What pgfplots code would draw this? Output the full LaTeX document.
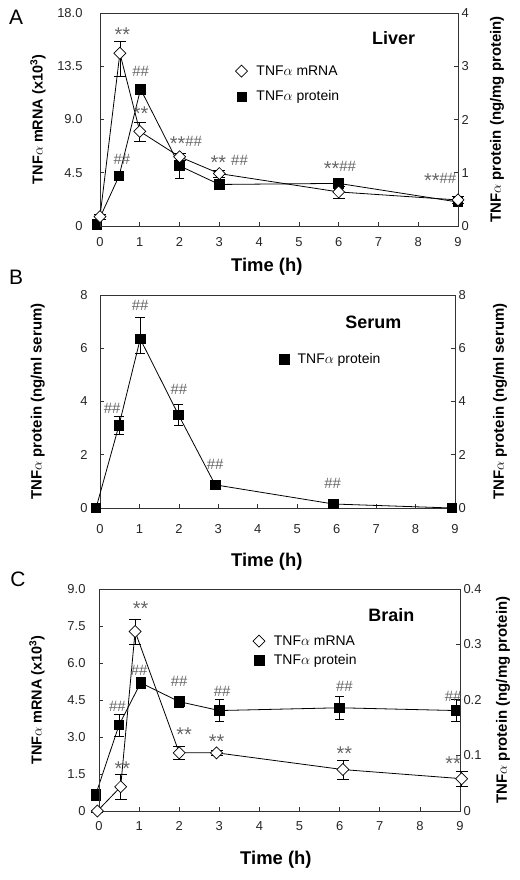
\documentclass[border=0pt]{standalone}
\usepackage{fontspec}
\setmainfont{Liberation Sans}
\usepackage{pgfplots}
\pgfplotsset{compat=1.18}
\definecolor{axc}{gray}{0.2}
\definecolor{annc}{gray}{0.4}
\tikzset{ann/.style={text=annc, font=\fontsize{15}{15}\selectfont, inner sep=0pt}}
\newcommand{\st}{\raisebox{-4bp}{\fontsize{20}{20}\selectfont **}}
\pgfplotsset{
  panel/.style={scale only axis, anchor=north west, xmin=0, xmax=9, xtick={0,1,...,9}, clip=false,
    axis line style={axc, line width=0.8bp},
    tick style={axc, line width=0.7bp}, major tick length=4bp,
    tick label style={font=\fontsize{13}{13}\selectfont, text=black!85},
    /pgf/number format/assume math mode=true,
    ylabel style={font=\bfseries\fontsize{14.5}{14.5}\selectfont},
    xlabel style={font=\bfseries\fontsize{18.5}{18.5}\selectfont},
    legend style={draw=none, fill=none, inner sep=0pt, font=\fontsize{14}{14}\selectfont},
    legend cell align=left,
  },
  mrna/.style={black, line width=0.8bp, mark=diamond*, mark size=6bp,
    mark options={fill=white, draw=black, line width=0.7bp, xscale=1.33, solid},
    error bars/y dir=both, error bars/y explicit, error bars/error bar style={line width=0.7bp, black}},
  prot/.style={black, line width=0.8bp, mark=square*, mark size=4.8bp,
    mark options={fill=black, draw=black, solid},
    error bars/y dir=both, error bars/y explicit, error bars/error bar style={line width=0.7bp, black}},
}
\newcommand{\legmrna}{\addlegendimage{only marks, mark=diamond*, mark size=6bp, mark options={fill=white, draw=black, line width=0.7bp, xscale=1.33}}}
\newcommand{\legprot}{\addlegendimage{only marks, mark=square*, mark size=4.8bp, mark options={fill=black}}}
\newcommand{\lgap}{\hspace*{7bp}}
\begin{document}
\begin{tikzpicture}
\path[use as bounding box] (0,0) rectangle (520bp,-880bp);
% Panel letters
\node[font=\fontsize{21}{21}\selectfont] at (16bp,-17bp) {A};
\node[font=\fontsize{21}{21}\selectfont] at (16bp,-277bp) {B};
\node[font=\fontsize{21}{21}\selectfont] at (18bp,-579bp) {C};

% ---------------- Panel A ----------------
\begin{axis}[panel, at={(100bp,-13bp)}, width=358bp, height=213bp,
  ymin=0, ymax=4, ytick={0,1,2,3,4},
  axis x line=none, axis y line*=right,
  ylabel={TNF$\alpha$ protein (ng/mg protein)},
  ylabel style={at={(axis description cs:1.109,0.5)}, anchor=center, font=\bfseries\fontsize{15}{15}\selectfont}]
\addplot[prot] coordinates {
  (-0.08,0.03) +- (0,0.02)
  (0.48,0.94) +- (0,0.05)
  (1.02,2.57) +- (0,0.1)
  (2,1.13) +- (0,0.24)
  (3,0.78) +- (0,0.05)
  (6,0.8) +- (0,0.1)
  (9,0.45) +- (0,0.05)
};
\end{axis}
\begin{axis}[panel, at={(100bp,-13bp)}, width=358bp, height=213bp,
  ymin=0, ymax=18, ytick={0,4.5,9,13.5,18}, yticklabels={0,4.5,9.0,13.5,18.0},
  ytick pos=left, xtick pos=bottom,
  xticklabel style={yshift=-8bp}, yticklabel style={xshift=-14bp},
  xlabel={Time (h)}, ylabel={TNF$\alpha$ mRNA (x10\textsuperscript{3})},
  xlabel style={at={(axis description cs:0.466,-0.19)}, anchor=center},
  ylabel style={at={(axis description cs:-0.173,0.5)}, anchor=center},
  legend style={at={(rel axis cs:0.378,0.763)}, anchor=north west, row sep=10bp}]
\legmrna \addlegendentry{\lgap TNF$\alpha$ mRNA}
\legprot \addlegendentry{\lgap TNF$\alpha$ protein}
\addplot[mrna, forget plot] coordinates {
  (0,0.8) +- (0,0.2)
  (0.5,14.6) += (0,1.0) -= (0,1.9)
  (1,8.0) +- (0,0.8)
  (2,5.85) +- (0,0.3)
  (3,4.43) +- (0,0.3)
  (6,2.88) +- (0,0.5)
  (9,2.2) +- (0,0.3)
};
\node[ann] at (axis cs:0.56,16.2) {\st};
\node[ann] at (axis cs:1.02,13.1) {\#\#};
\node[ann] at (axis cs:0.55,5.6) {\#\#};
\node[ann] at (axis cs:1.02,9.5) {\st};
\node[ann] at (axis cs:2.16,6.98) {\st\#\#};
\node[ann] at (axis cs:3.25,5.37) {\st\,\,\#\#};
\node[ann] at (axis cs:6.03,4.86) {\st\#\#};
\node[ann] at (axis cs:8.55,3.87) {\st\#\#};
\node[font=\bfseries\fontsize{18}{18}\selectfont] at (rel axis cs:0.82,0.883) {Liver};
\end{axis}

% ---------------- Panel B ----------------
\begin{axis}[panel, at={(100bp,-295bp)}, width=355bp, height=213bp,
  ymin=0, ymax=8, ytick={0,2,4,6,8},
  axis x line=none, axis y line*=right,
  ylabel={TNF$\alpha$ protein (ng/ml serum)},
  ylabel style={at={(axis description cs:1.127,0.5)}, anchor=center, font=\bfseries\fontsize{15}{15}\selectfont}]
\end{axis}
\begin{axis}[panel, at={(100bp,-295bp)}, width=355bp, height=213bp,
  ymin=0, ymax=8, ytick={0,2,4,6,8},
  ytick pos=left, xtick pos=bottom,
  xticklabel style={yshift=-13bp}, yticklabel style={xshift=-9bp},
  xlabel={Time (h)}, ylabel={TNF$\alpha$ protein (ng/ml serum)},
  xlabel style={at={(axis description cs:0.47,-0.25)}, anchor=center},
  ylabel style={at={(axis description cs:-0.175,0.5)}, anchor=center, font=\bfseries\fontsize{15}{15}\selectfont},
  legend style={at={(rel axis cs:0.504,0.737)}, anchor=north west}]
\legprot \addlegendentry{\lgap TNF$\alpha$ protein}
\addplot[prot, forget plot] coordinates {
  (-0.1,0) +- (0,0.02)
  (0.48,3.1) +- (0,0.33)
  (1.02,6.35) += (0,0.8) -= (0,0.55)
  (1.99,3.5) +- (0,0.4)
  (2.92,0.87) +- (0,0.1)
  (5.92,0.15) +- (0,0.1)
  (8.92,0) +- (0,0.02)
};
\node[ann] at (axis cs:1.02,7.6) {\#\#};
\node[ann] at (axis cs:0.31,3.75) {\#\#};
\node[ann] at (axis cs:2.0,4.46) {\#\#};
\node[ann] at (axis cs:2.92,1.62) {\#\#};
\node[ann] at (axis cs:5.9,0.94) {\#\#};
\node[font=\bfseries\fontsize{18}{18}\selectfont] at (rel axis cs:0.77,0.873) {Serum};
\end{axis}

% ---------------- Panel C ----------------
\begin{axis}[panel, at={(99bp,-589bp)}, width=361bp, height=222bp,
  ymin=0, ymax=0.4, ytick={0,0.1,0.2,0.3,0.4}, yticklabels={0,0.1,0.2,0.3,0.4},
  axis x line=none, axis y line*=right,
  ylabel={TNF$\alpha$ protein (ng/mg protein)},
  ylabel style={at={(axis description cs:1.119,0.5)}, anchor=center, font=\bfseries\fontsize{15}{15}\selectfont}]
\addplot[prot] coordinates {
  (-0.08,0.03) +- (0,0.01)
  (0.5,0.155) +- (0,0.02)
  (1.04,0.231) +- (0,0.01)
  (2,0.197) +- (0,0.01)
  (3,0.181) +- (0,0.02)
  (6,0.186) +- (0,0.02)
  (8.9,0.181) +- (0,0.02)
};
\end{axis}
\begin{axis}[panel, at={(99bp,-589bp)}, width=361bp, height=222bp,
  ymin=0, ymax=9, ytick={0,1.5,3,4.5,6,7.5,9}, yticklabels={0,1.5,3.0,4.5,6.0,7.5,9.0},
  ytick pos=left, xtick pos=bottom,
  xticklabel style={yshift=-7bp}, yticklabel style={xshift=-10bp},
  xlabel={Time (h)}, ylabel={TNF$\alpha$ mRNA (x10\textsuperscript{3})},
  xlabel style={at={(axis description cs:0.49,-0.22)}, anchor=center},
  ylabel style={at={(axis description cs:-0.172,0.5)}, anchor=center},
  legend style={at={(rel axis cs:0.426,0.80)}, anchor=north west, row sep=4bp}]
\legmrna \addlegendentry{\lgap TNF$\alpha$ mRNA}
\legprot \addlegendentry{\lgap TNF$\alpha$ protein}
\addplot[mrna, forget plot] coordinates {
  (-0.04,0) +- (0,0.05)
  (0.54,0.98) +- (0,0.5)
  (0.9,7.28) +- (0,0.5)
  (2,2.36) +- (0,0.25)
  (2.93,2.36) +- (0,0.1)
  (6.08,1.68) +- (0,0.4)
  (9.04,1.31) +- (0,0.3)
};
\node[ann] at (axis cs:1.04,8.22) {\st};
\node[ann] at (axis cs:1.0,5.72) {\#\#};
\node[ann] at (axis cs:0.46,4.23) {\#\#};
\node[ann] at (axis cs:0.58,1.72) {\st};
\node[ann] at (axis cs:2.0,5.24) {\#\#};
\node[ann] at (axis cs:2.12,3.08) {\st};
\node[ann] at (axis cs:3.07,4.84) {\#\#};
\node[ann] at (axis cs:2.93,2.83) {\st};
\node[ann] at (axis cs:6.12,5.07) {\#\#};
\node[ann] at (axis cs:6.12,2.33) {\st};
\node[ann] at (axis cs:8.83,4.63) {\#\#};
\node[ann] at (axis cs:8.83,1.92) {\st};
\node[font=\bfseries\fontsize{18}{18}\selectfont] at (rel axis cs:0.81,0.883) {Brain};
\end{axis}
\end{tikzpicture}
\end{document}
